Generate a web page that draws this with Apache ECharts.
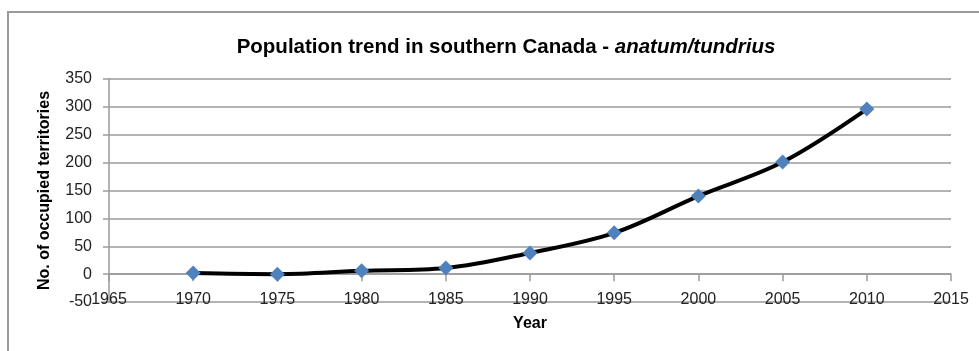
<!DOCTYPE html>
<html>
<head>
<meta charset="utf-8">
<script src="https://cdn.jsdelivr.net/npm/echarts@6/dist/echarts.min.js"></script>
<style>
  html, body { margin: 0; padding: 0; background: #fff; }
  #chart { width: 979px; height: 351px; }
</style>
</head>
<body>
<div id="chart"></div>
<script>
// Survey years and number of occupied territories
const years = [1970, 1975, 1980, 1985, 1990, 1995, 2000, 2005, 2010];
const territories = [2, 0, 6, 11, 38, 74, 140, 201, 296];

const FONT = 'Liberation Sans';
const chart = echarts.init(document.getElementById('chart'));

chart.setOption({
  backgroundColor: '#ffffff',
  animation: false,
  textStyle: { fontFamily: FONT },
  title: {
    text: '{b|Population trend in southern Canada - }{i|anatum/tundrius}',
    left: 501,
    textAlign: 'center',
    top: 32,
    textStyle: {
      rich: {
        b: { fontFamily: FONT, fontWeight: 'bold', fontSize: 20.5, color: '#000' },
        i: { fontFamily: FONT, fontWeight: 'bold', fontStyle: 'italic', fontSize: 20.5, color: '#000' }
      }
    }
  },
  graphic: [{
    type: 'rect',
    shape: { x: 8, y: 12, width: 1100, height: 500 },
    style: { fill: 'none', stroke: '#9a9a9a', lineWidth: 2 },
    silent: true
  }],
  grid: { left: 109, right: 28, top: 79, bottom: 49, outerBoundsMode: 'none', containLabel: false },
  xAxis: {
    type: 'value',
    min: 1965,
    max: 2015,
    interval: 5,
    name: 'Year',
    nameLocation: 'middle',
    nameGap: 14,
    nameTextStyle: { fontFamily: FONT, fontWeight: 'bold', fontSize: 16, color: '#000' },
    axisLine: { onZero: true, lineStyle: { color: '#9a9a9a', width: 1.5 } },
    axisTick: { show: true, inside: false, length: 7, lineStyle: { color: '#9a9a9a', width: 1.5 } },
    axisLabel: { margin: -10, fontFamily: FONT, fontSize: 16, color: '#222', formatter: v => String(v) },
    splitLine: { show: false }
  },
  yAxis: {
    type: 'value',
    min: -50,
    max: 350,
    interval: 50,
    name: 'No. of occupied territories',
    nameLocation: 'middle',
    nameGap: 56,
    nameTextStyle: { fontFamily: FONT, fontWeight: 'bold', fontSize: 16, color: '#000' },
    axisLine: { show: true, lineStyle: { color: '#9a9a9a', width: 1.5 } },
    axisTick: { show: true, inside: false, length: 6, lineStyle: { color: '#9a9a9a', width: 1.5 } },
    axisLabel: { margin: 17, fontFamily: FONT, fontSize: 16, color: '#222' },
    splitLine: { show: true, lineStyle: { color: '#9a9a9a', width: 1.5 } }
  },
  series: [{
    type: 'line',
    data: years.map((y, i) => [y, territories[i]]),
    smooth: 0.35,
    lineStyle: { color: '#000', width: 4 },
    symbol: 'diamond',
    symbolSize: 15,
    itemStyle: { color: '#4f81bd' },
    z: 3
  }]
});
</script>
</body>
</html>
